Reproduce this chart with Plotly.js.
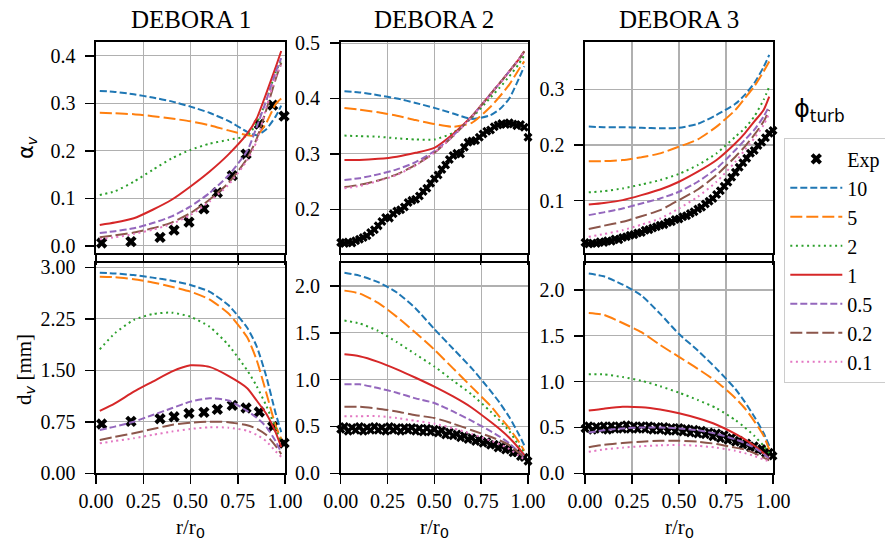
<!DOCTYPE html>
<html><head><meta charset="utf-8">
<script src="https://cdn.plot.ly/plotly-3.0.1.min.js"></script>
<style>html,body{margin:0;padding:0;background:#fff;}#chart{width:885px;height:543px;}</style>
</head><body><div id="chart"></div>
<script>
// ---------- DATA ----------
const phiLabels = ['10', '5', '2', '1', '0.5', '0.2', '0.1'];
const rModel = [0.02, 0.1, 0.2, 0.3, 0.4, 0.5, 0.6, 0.7, 0.8, 0.85, 0.9, 0.95, 0.98];

// DEBORA 1 - void fraction
const alphaD1_10  = [0.326, 0.324, 0.319, 0.312, 0.304, 0.293, 0.280, 0.263, 0.240, 0.233, 0.245, 0.272, 0.295];
const alphaD1_5   = [0.280, 0.279, 0.277, 0.273, 0.268, 0.262, 0.254, 0.243, 0.233, 0.232, 0.258, 0.298, 0.310];
const alphaD1_2   = [0.107, 0.115, 0.135, 0.160, 0.184, 0.202, 0.215, 0.223, 0.232, 0.258, 0.305, 0.365, 0.390];
const alphaD1_1   = [0.044, 0.049, 0.058, 0.076, 0.097, 0.125, 0.156, 0.192, 0.236, 0.268, 0.320, 0.375, 0.410];
const alphaD1_05  = [0.027, 0.031, 0.037, 0.048, 0.062, 0.083, 0.111, 0.148, 0.200, 0.250, 0.305, 0.365, 0.395];
const alphaD1_02  = [0.018, 0.022, 0.028, 0.037, 0.049, 0.069, 0.097, 0.132, 0.184, 0.225, 0.285, 0.350, 0.385];
const alphaD1_01  = [0.014, 0.018, 0.025, 0.034, 0.046, 0.065, 0.093, 0.128, 0.180, 0.220, 0.290, 0.355, 0.380];

// DEBORA 2 - void fraction
const alphaD2_10  = [0.413, 0.411, 0.406, 0.400, 0.392, 0.383, 0.373, 0.363, 0.370, 0.381, 0.400, 0.435, 0.458];
const alphaD2_5   = [0.383, 0.380, 0.375, 0.369, 0.361, 0.354, 0.349, 0.356, 0.385, 0.404, 0.425, 0.452, 0.467];
const alphaD2_2   = [0.333, 0.332, 0.331, 0.328, 0.326, 0.326, 0.338, 0.365, 0.402, 0.420, 0.440, 0.462, 0.478];
const alphaD2_1   = [0.289, 0.289, 0.291, 0.295, 0.302, 0.311, 0.336, 0.368, 0.408, 0.428, 0.449, 0.470, 0.485];
const alphaD2_05  = [0.253, 0.256, 0.263, 0.272, 0.285, 0.305, 0.333, 0.367, 0.408, 0.428, 0.449, 0.470, 0.485];
const alphaD2_02  = [0.240, 0.244, 0.252, 0.263, 0.280, 0.302, 0.332, 0.367, 0.408, 0.428, 0.449, 0.470, 0.485];
const alphaD2_01  = [0.238, 0.242, 0.251, 0.262, 0.279, 0.302, 0.332, 0.367, 0.408, 0.428, 0.449, 0.470, 0.485];

// DEBORA 3 - void fraction
const alphaD3_10  = [0.233, 0.232, 0.232, 0.231, 0.230, 0.231, 0.238, 0.254, 0.274, 0.290, 0.311, 0.340, 0.362];
const alphaD3_5   = [0.171, 0.171, 0.173, 0.178, 0.185, 0.197, 0.210, 0.233, 0.263, 0.284, 0.305, 0.332, 0.350];
const alphaD3_2   = [0.115, 0.117, 0.122, 0.129, 0.137, 0.148, 0.164, 0.185, 0.215, 0.230, 0.251, 0.281, 0.305];
const alphaD3_1   = [0.093, 0.096, 0.101, 0.110, 0.120, 0.134, 0.152, 0.173, 0.203, 0.221, 0.242, 0.263, 0.287];
const alphaD3_05  = [0.074, 0.079, 0.086, 0.095, 0.104, 0.116, 0.134, 0.158, 0.191, 0.209, 0.227, 0.251, 0.270];
const alphaD3_02  = [0.049, 0.055, 0.062, 0.072, 0.083, 0.101, 0.120, 0.146, 0.179, 0.197, 0.218, 0.242, 0.263];
const alphaD3_01  = [0.035, 0.040, 0.047, 0.057, 0.068, 0.086, 0.107, 0.134, 0.170, 0.191, 0.212, 0.236, 0.257];

// DEBORA 1 - bubble diameter [mm]
const dD1_10 = [2.922, 2.910, 2.888, 2.850, 2.806, 2.743, 2.646, 2.450, 2.120, 1.850, 1.420, 0.880, 0.600];
const dD1_5  = [2.864, 2.855, 2.825, 2.780, 2.718, 2.646, 2.534, 2.330, 1.980, 1.650, 1.180, 0.700, 0.500];
const dD1_2  = [1.806, 2.040, 2.233, 2.320, 2.340, 2.280, 2.136, 1.870, 1.500, 1.270, 0.990, 0.660, 0.450];
const dD1_1  = [0.908, 1.019, 1.189, 1.335, 1.481, 1.573, 1.550, 1.420, 1.240, 1.060, 0.870, 0.600, 0.380];
const dD1_05 = [0.631, 0.680, 0.752, 0.850, 0.947, 1.044, 1.092, 1.060, 0.910, 0.810, 0.680, 0.470, 0.300];
const dD1_02 = [0.485, 0.530, 0.583, 0.645, 0.704, 0.738, 0.752, 0.745, 0.700, 0.650, 0.560, 0.400, 0.280];
const dD1_01 = [0.437, 0.470, 0.510, 0.560, 0.607, 0.646, 0.670, 0.665, 0.620, 0.560, 0.470, 0.320, 0.240];

// DEBORA 2 - bubble diameter [mm]
const dD2_10 = [2.14, 2.11, 2.04, 1.93, 1.76, 1.54, 1.33, 1.12, 0.88, 0.75, 0.60, 0.42, 0.30];
const dD2_5  = [1.95, 1.92, 1.82, 1.67, 1.50, 1.32, 1.12, 0.92, 0.72, 0.60, 0.48, 0.34, 0.24];
const dD2_2  = [1.63, 1.60, 1.52, 1.40, 1.27, 1.14, 0.99, 0.84, 0.66, 0.56, 0.45, 0.30, 0.22];
const dD2_1  = [1.27, 1.25, 1.19, 1.11, 1.02, 0.925, 0.82, 0.70, 0.55, 0.47, 0.38, 0.27, 0.19];
const dD2_05 = [0.95, 0.95, 0.91, 0.86, 0.80, 0.75, 0.66, 0.56, 0.45, 0.39, 0.32, 0.23, 0.17];
const dD2_02 = [0.71, 0.71, 0.69, 0.66, 0.62, 0.59, 0.53, 0.46, 0.39, 0.35, 0.30, 0.22, 0.17];
const dD2_01 = [0.61, 0.61, 0.61, 0.59, 0.56, 0.53, 0.48, 0.42, 0.35, 0.31, 0.26, 0.19, 0.15];

// DEBORA 3 - bubble diameter [mm]
const dD3_10 = [2.18, 2.15, 2.06, 1.94, 1.74, 1.52, 1.34, 1.14, 0.92, 0.78, 0.62, 0.44, 0.30];
const dD3_5  = [1.75, 1.73, 1.64, 1.54, 1.40, 1.27, 1.14, 1.00, 0.82, 0.71, 0.57, 0.41, 0.26];
const dD3_2  = [1.08, 1.08, 1.05, 1.01, 0.95, 0.88, 0.80, 0.71, 0.58, 0.50, 0.41, 0.30, 0.22];
const dD3_1  = [0.685, 0.705, 0.725, 0.72, 0.695, 0.655, 0.60, 0.53, 0.43, 0.37, 0.30, 0.22, 0.16];
const dD3_05 = [0.445, 0.47, 0.49, 0.50, 0.50, 0.49, 0.47, 0.43, 0.37, 0.33, 0.28, 0.21, 0.16];
const dD3_02 = [0.285, 0.31, 0.33, 0.345, 0.355, 0.355, 0.345, 0.32, 0.28, 0.26, 0.22, 0.17, 0.14];
const dD3_01 = [0.235, 0.26, 0.28, 0.295, 0.305, 0.31, 0.30, 0.28, 0.245, 0.22, 0.19, 0.15, 0.13];

// Experimental data
const rExpD1     = [0.03, 0.185, 0.339, 0.413, 0.492, 0.571, 0.642, 0.721, 0.794, 0.864, 0.935, 0.995];
const alphaExpD1 = [0.006, 0.009, 0.018, 0.033, 0.050, 0.078, 0.112, 0.148, 0.193, 0.256, 0.296, 0.273];
const dExpD1     = [0.718, 0.757, 0.795, 0.824, 0.874, 0.888, 0.932, 0.990, 0.951, 0.893, 0.679, 0.440];

const rExpDense = [0.00, 0.02, 0.04, 0.06, 0.08, 0.10, 0.12, 0.14, 0.16, 0.18, 0.20, 0.22, 0.24, 0.26, 0.28, 0.30, 0.32, 0.34, 0.36, 0.38, 0.40, 0.42, 0.44, 0.46, 0.48, 0.50, 0.52, 0.54, 0.56, 0.58, 0.60, 0.62, 0.64, 0.66, 0.68, 0.70, 0.72, 0.74, 0.76, 0.78, 0.80, 0.82, 0.84, 0.86, 0.88, 0.90, 0.92, 0.94, 0.96, 0.98, 1.00];
const alphaExpD2 = [0.140, 0.138, 0.141, 0.139, 0.143, 0.146, 0.149, 0.152, 0.158, 0.163, 0.170, 0.178, 0.185, 0.184, 0.192, 0.197, 0.199, 0.204, 0.212, 0.216, 0.218, 0.224, 0.232, 0.238, 0.247, 0.255, 0.262, 0.272, 0.280, 0.290, 0.297, 0.301, 0.300, 0.312, 0.321, 0.323, 0.324, 0.330, 0.336, 0.341, 0.343, 0.349, 0.352, 0.355, 0.353, 0.356, 0.354, 0.351, 0.353, 0.348, 0.330];
const alphaExpD3 = [0.025, 0.022, 0.024, 0.023, 0.026, 0.025, 0.028, 0.027, 0.031, 0.030, 0.034, 0.035, 0.038, 0.039, 0.042, 0.043, 0.047, 0.048, 0.051, 0.053, 0.056, 0.057, 0.061, 0.062, 0.066, 0.067, 0.071, 0.073, 0.077, 0.080, 0.085, 0.088, 0.094, 0.099, 0.104, 0.111, 0.118, 0.126, 0.133, 0.142, 0.151, 0.160, 0.168, 0.176, 0.185, 0.190, 0.199, 0.205, 0.213, 0.221, 0.226];
const dExpD2 = [0.47, 0.50, 0.45, 0.49, 0.46, 0.50, 0.45, 0.49, 0.46, 0.50, 0.46, 0.49, 0.45, 0.50, 0.46, 0.49, 0.45, 0.49, 0.46, 0.49, 0.45, 0.48, 0.44, 0.48, 0.44, 0.47, 0.43, 0.46, 0.41, 0.44, 0.40, 0.42, 0.38, 0.40, 0.36, 0.38, 0.34, 0.36, 0.32, 0.34, 0.30, 0.31, 0.27, 0.29, 0.25, 0.26, 0.22, 0.22, 0.18, 0.17, 0.13];
const dExpD3 = [0.49, 0.52, 0.47, 0.51, 0.48, 0.52, 0.47, 0.52, 0.48, 0.52, 0.48, 0.53, 0.48, 0.52, 0.48, 0.52, 0.48, 0.52, 0.47, 0.51, 0.47, 0.51, 0.46, 0.50, 0.46, 0.50, 0.45, 0.49, 0.44, 0.48, 0.43, 0.47, 0.42, 0.45, 0.40, 0.44, 0.38, 0.42, 0.36, 0.39, 0.34, 0.36, 0.31, 0.33, 0.28, 0.30, 0.25, 0.27, 0.22, 0.23, 0.19];

// ---------- STYLES ----------
const colors = ['#1f77b4', '#ff7f0e', '#2ca02c', '#d62728', '#9467bd', '#8c564b', '#e377c2'];
const dashes = ['7px,3px', '12px,4px', '2px,3.6px', 'solid', '7px,3px', '12px,4px', '2px,3.6px'];
const serif = 'Liberation Serif';
const sans = 'DejaVu Sans';

const traces = [];
function addExp(xa, ya, xs, ys, size, showLeg) {
  traces.push({x: xs, y: ys, xaxis: xa, yaxis: ya, type: 'scatter', mode: 'markers', name: 'Exp',
    showlegend: showLeg, cliponaxis: false,
    marker: {symbol: 'x', color: 'black', size: size, line: {width: 0}}});
}
function addModels(xa, ya, arrs, showLeg) {
  arrs.forEach((arr, i) => {
    traces.push({x: rModel, y: arr, xaxis: xa, yaxis: ya, type: 'scatter', mode: 'lines',
      name: phiLabels[i], showlegend: showLeg,
      line: {color: colors[i], width: 2, dash: dashes[i], shape: 'spline', smoothing: 0.6}});
  });
}

addExp('x', 'y', rExpD1, alphaExpD1, 10, true);
addModels('x', 'y', [alphaD1_10, alphaD1_5, alphaD1_2, alphaD1_1, alphaD1_05, alphaD1_02, alphaD1_01], true);
addExp('x2', 'y2', rExpDense, alphaExpD2, 8, false);
addModels('x2', 'y2', [alphaD2_10, alphaD2_5, alphaD2_2, alphaD2_1, alphaD2_05, alphaD2_02, alphaD2_01], false);
addExp('x3', 'y3', rExpDense, alphaExpD3, 8, false);
addModels('x3', 'y3', [alphaD3_10, alphaD3_5, alphaD3_2, alphaD3_1, alphaD3_05, alphaD3_02, alphaD3_01], false);
addExp('x4', 'y4', rExpD1, dExpD1, 10, false);
addModels('x4', 'y4', [dD1_10, dD1_5, dD1_2, dD1_1, dD1_05, dD1_02, dD1_01], false);
addExp('x5', 'y5', rExpDense, dExpD2, 8, false);
addModels('x5', 'y5', [dD2_10, dD2_5, dD2_2, dD2_1, dD2_05, dD2_02, dD2_01], false);
addExp('x6', 'y6', rExpDense, dExpD3, 8, false);
addModels('x6', 'y6', [dD3_10, dD3_5, dD3_2, dD3_1, dD3_05, dD3_02, dD3_01], false);

// ---------- LAYOUT ----------
const W = 885, H = 543;
const colDom = [[96 / W, 285 / W], [340.7 / W, 528 / W], [585 / W, 773 / W]];
const topDom = [1 - 253 / H, 1 - 42 / H];
const botDom = [1 - 473.3 / H, 1 - 263 / H];

function tickFont() { return {family: serif, size: 20, color: 'black'}; }
function axisBase() {
  return {
    showline: true, mirror: true, linecolor: 'black', linewidth: 1.6,
    showgrid: true, gridcolor: '#b0b0b0', gridwidth: 1.2, zeroline: false,
    ticks: 'outside', ticklen: 9, tickwidth: 1.5, tickcolor: 'black',
    tickfont: tickFont(), ticklabelstandoff: 6
  };
}
const xTicks = [0, 0.25, 0.5, 0.75, 1.0];
const xText = ['0.00', '0.25', '0.50', '0.75', '1.00'];

const layout = {
  width: W, height: H,
  font: {family: serif, size: 20, color: 'black'},
  margin: {l: 0, r: 0, t: 0, b: 0, autoexpand: false},
  paper_bgcolor: 'white', plot_bgcolor: 'white',
  showlegend: true,
  legend: {x: 784 / W, y: 1 - 138 / H, xanchor: 'left', yanchor: 'top',
    bgcolor: 'white', bordercolor: '#cccccc', borderwidth: 1.3,
    font: {family: serif, size: 20, color: 'black'}, traceorder: 'normal', itemwidth: 52},
  annotations: []
};
for (let c = 0; c < 3; c++) {
  const ti = c + 1, bi = c + 4;
  const tx = ti === 1 ? 'xaxis' : 'xaxis' + ti;
  layout[tx] = Object.assign(axisBase(), {domain: colDom[c], anchor: ti === 1 ? 'y' : 'y' + ti,
    range: [0, 1], tickvals: xTicks, showticklabels: false, ticklen: 10});
  layout['xaxis' + bi] = Object.assign(axisBase(), {domain: colDom[c], anchor: 'y' + bi,
    range: [0, 1], tickvals: xTicks, ticktext: xText, ticklabelstandoff: 0});
}
layout.yaxis  = Object.assign(axisBase(), {domain: topDom, anchor: 'x',  range: [-0.015, 0.429],
  tickvals: [0, 0.1, 0.2, 0.3, 0.4], ticktext: ['0.0', '0.1', '0.2', '0.3', '0.4']});
layout.yaxis2 = Object.assign(axisBase(), {domain: topDom, anchor: 'x2', range: [0.121, 0.502],
  tickvals: [0.2, 0.3, 0.4, 0.5], ticktext: ['0.2', '0.3', '0.4', '0.5']});
layout.yaxis3 = Object.assign(axisBase(), {domain: topDom, anchor: 'x3', range: [0.006, 0.385],
  tickvals: [0.1, 0.2, 0.3], ticktext: ['0.1', '0.2', '0.3']});
layout.yaxis4 = Object.assign(axisBase(), {domain: botDom, anchor: 'x4', range: [0, 3.063],
  tickvals: [0, 0.75, 1.5, 2.25, 3.0], ticktext: ['0.00', '0.75', '1.50', '2.25', '3.00']});
layout.yaxis5 = Object.assign(axisBase(), {domain: botDom, anchor: 'x5', range: [0, 2.245],
  tickvals: [0, 0.5, 1, 1.5, 2], ticktext: ['0.0', '0.5', '1.0', '1.5', '2.0']});
layout.yaxis6 = Object.assign(axisBase(), {domain: botDom, anchor: 'x6', range: [0, 2.295],
  tickvals: [0, 0.5, 1, 1.5, 2], ticktext: ['0.0', '0.5', '1.0', '1.5', '2.0']});

const titles = ['DEBORA 1', 'DEBORA 2', 'DEBORA 3'];
const centers = [190.5, 434.3, 679];
for (let c = 0; c < 3; c++) {
  layout.annotations.push({text: titles[c], xref: 'paper', yref: 'paper', x: centers[c] / W, y: 1 - 19 / H,
    xanchor: 'center', yanchor: 'middle', showarrow: false, font: {family: serif, size: 25, color: 'black'}});
  layout.annotations.push({text: 'r/r<sub><span style="font-family:DejaVu Sans">0</span></sub>', xref: 'paper', yref: 'paper',
    x: centers[c] / W, y: 1 - 528 / H, xanchor: 'center', yanchor: 'middle', showarrow: false,
    font: {family: serif, size: 21, color: 'black'}});
}
layout.annotations.push({text: 'α<sub><i>v</i></sub>', xref: 'paper', yref: 'paper', x: 27 / W, y: 1 - 148 / H,
  xanchor: 'center', yanchor: 'middle', textangle: -90, showarrow: false, font: {family: sans, size: 21, color: 'black'}});
layout.annotations.push({text: 'd<sub><span style="font-family:DejaVu Sans"><i>v</i></span></sub> [mm]', xref: 'paper', yref: 'paper',
  x: 25 / W, y: 1 - 370 / H, xanchor: 'center', yanchor: 'middle', textangle: -90, showarrow: false,
  font: {family: serif, size: 21, color: 'black'}});
layout.annotations.push({text: 'ϕ<sub>turb</sub>', xref: 'paper', yref: 'paper', x: 792 / W, y: 1 - 110 / H,
  xanchor: 'left', yanchor: 'middle', showarrow: false, font: {family: sans, size: 24, color: 'black'}});

Plotly.newPlot('chart', traces, layout, {staticPlot: true, displayModeBar: false});
</script></body></html>
